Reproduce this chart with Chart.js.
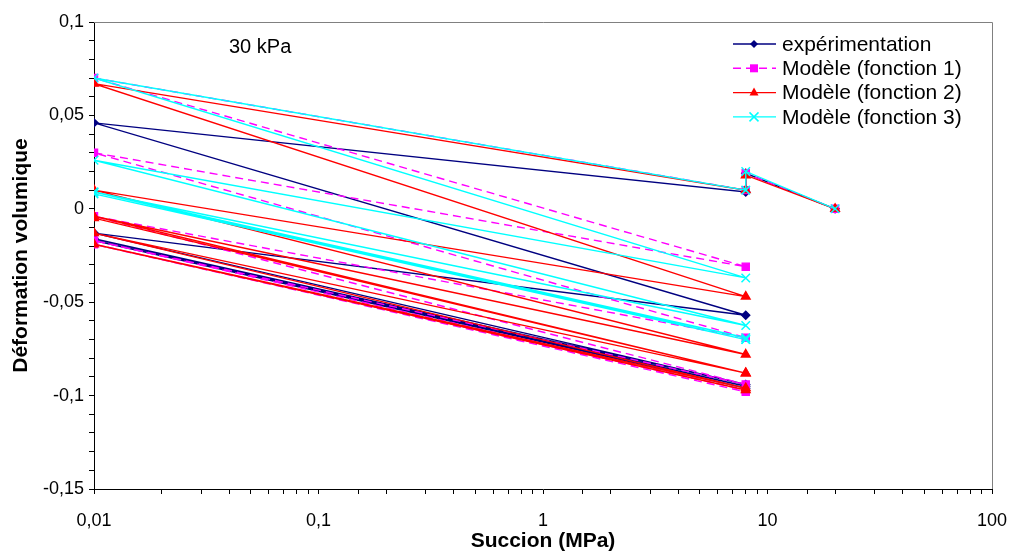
<!DOCTYPE html>
<html>
<head>
<meta charset="utf-8">
<script src="https://cdn.jsdelivr.net/npm/chart.js"></script>
<style>
  body { margin: 0; background: #fff; }
  #wrap { width: 1009px; height: 552px; }
</style>
</head>
<body>
<div id="wrap"><canvas id="chart" width="1009" height="552"></canvas></div>
<script>
// suction (MPa) and volumetric strain
const sucExp = [20, 8, 8, 0.01, 8, 0.01, 8, 0.01, 8, 0.01, 8];
const defExp = [0, 0.019, 0.009, 0.046, -0.057, -0.013, -0.094, -0.016, -0.095, -0.017, -0.096];

const sucF1 = [20, 8, 8, 0.01, 8, 0.01, 8, 0.01, 8, 0.01, 8, 0.01, 8];
const defF1 = [0, 0.019, 0.010, 0.070, -0.031, 0.030, -0.069, -0.004, -0.094, -0.017, -0.097, -0.019, -0.098];

const sucF2 = [20, 8, 8, 0.01, 8, 0.01, 8, 0.01, 8, 0.01, 8, 0.01, 8, 0.01, 8];
const defF2 = [0, 0.018, 0.010, 0.067, -0.047, 0.010, -0.078, -0.004, -0.088, -0.005, -0.088, -0.013, -0.096, -0.019, -0.097];

const sucF3 = [20, 8, 8, 0.01, 8, 0.01, 8, 0.01, 8, 0.01, 8, 0.01, 8];
const defF3 = [0, 0.020, 0.010, 0.070, -0.037, 0.026, -0.0625, 0.009, -0.069, 0.008, -0.070, 0.009, -0.070];

const seriesNames = ["expérimentation", "Modèle (fonction 1)", "Modèle (fonction 2)", "Modèle (fonction 3)"];
const xTitle = "Succion (MPa)";
const yTitle = "Déformation volumique";
const note = "30 kPa";

function pts(xs, ys) {
    let out = [];
    for (let i = 0; i < xs.length; i++) out.push({x: xs[i], y: ys[i]});
    return out;
}

function fmt(v) {
    let r = Math.round(v * 1000) / 1000;
    if (r === 0) return "0";
    return String(r).replace(".", ",");
}

function drawMarker(ctx, style, x, y, r, color) {
    ctx.save();
    ctx.fillStyle = color;
    ctx.strokeStyle = color;
    ctx.setLineDash([]);
    ctx.lineWidth = 1.5;
    ctx.beginPath();
    if (style == "rectRot") {
        ctx.moveTo(x, y - r); ctx.lineTo(x + r, y); ctx.lineTo(x, y + r); ctx.lineTo(x - r, y);
        ctx.closePath(); ctx.fill();
    } else if (style == "rect") {
        ctx.rect(x - r * 0.8, y - r * 0.8, r * 1.6, r * 1.6); ctx.fill();
    } else if (style == "triangle") {
        ctx.moveTo(x, y - r); ctx.lineTo(x + r * 0.9, y + r * 0.6); ctx.lineTo(x - r * 0.9, y + r * 0.6);
        ctx.closePath(); ctx.fill();
    } else {
        let d = r * 0.75;
        ctx.moveTo(x - d, y - d); ctx.lineTo(x + d, y + d);
        ctx.moveTo(x + d, y - d); ctx.lineTo(x - d, y + d);
        ctx.stroke();
    }
    ctx.restore();
}

const extras = {
    id: "extras",
    beforeDraw(chart) {
        const ctx = chart.ctx;
        ctx.save();
        ctx.fillStyle = "#fff";
        ctx.fillRect(0, 0, chart.width, chart.height);
        ctx.restore();
    },
    beforeDatasetsDraw(chart) {
        const ctx = chart.ctx, a = chart.chartArea;
        ctx.save();
        ctx.strokeStyle = "#808080";
        ctx.lineWidth = 1;
        ctx.beginPath();
        ctx.moveTo(a.left, a.top + 0.5); ctx.lineTo(a.right + 0.5, a.top + 0.5); ctx.lineTo(a.right + 0.5, a.bottom);
        ctx.stroke();
        ctx.restore();
    },
    afterDraw(chart) {
        const ctx = chart.ctx;
        ctx.save();
        ctx.fillStyle = "#000";
        ctx.font = "20px 'Liberation Sans', Arial, sans-serif";
        ctx.textBaseline = "middle";
        ctx.fillText(note, 229, 47);
        // legend
        ctx.font = "21px 'Liberation Sans', Arial, sans-serif";
        chart.data.datasets.forEach(function(ds, i) {
            let y = 44 + i * 24.3;
            ctx.save();
            ctx.strokeStyle = ds.borderColor;
            ctx.lineWidth = ds.borderWidth;
            ctx.setLineDash(ds.borderDash || []);
            ctx.beginPath();
            ctx.moveTo(733, y); ctx.lineTo(776, y);
            ctx.stroke();
            ctx.restore();
            drawMarker(ctx, ds.pointStyle, 754, y, ds.pointRadius, ds.borderColor);
            ctx.fillStyle = "#000";
            ctx.fillText(ds.label, 782, y + 1);
        });
        ctx.restore();
    }
};

new Chart("chart", {
    type: "line",
    data: {
        datasets: [
            {label: seriesNames[0], data: pts(sucExp, defExp), borderColor: "#000080", backgroundColor: "#000080",
             borderWidth: 1.4, pointStyle: "rectRot", pointRadius: 4, order: 4},
            {label: seriesNames[1], data: pts(sucF1, defF1), borderColor: "#FF00FF", backgroundColor: "#FF00FF",
             borderWidth: 1.4, borderDash: [8, 5], pointStyle: "rect", pointRadius: 5, order: 3},
            {label: seriesNames[2], data: pts(sucF2, defF2), borderColor: "#FF0000", backgroundColor: "#FF0000",
             borderWidth: 1.4, pointStyle: "triangle", pointRadius: 5, order: 2},
            {label: seriesNames[3], data: pts(sucF3, defF3), borderColor: "#00FFFF", backgroundColor: "#00FFFF",
             borderWidth: 1.4, pointStyle: "crossRot", pointRadius: 6, pointBorderWidth: 1.5, order: 1}
        ]
    },
    options: {
        responsive: false,
        animation: false,
        devicePixelRatio: 1,
        layout: {padding: {top: 22, right: 17, left: 0, bottom: 0}},
        plugins: {legend: {display: false}, tooltip: {enabled: false}},
        elements: {line: {tension: 0}},
        scales: {
            x: {
                type: "logarithmic",
                min: 0.01,
                max: 100,
                afterFit: function(s) { s.height = 63; s.paddingLeft = 0; s.paddingRight = 0; },
                grid: {drawOnChartArea: false, drawTicks: true, tickLength: 5, color: "#000"},
                border: {display: true, color: "#000", width: 1},
                ticks: {
                    autoSkip: false, maxRotation: 0, padding: 16, color: "#000",
                    font: {family: "'Liberation Sans', Arial, sans-serif", size: 18},
                    callback: function(v) {
                        let l = Math.log10(v);
                        if (Math.abs(l - Math.round(l)) > 1e-6) return "";
                        return fmt(v);
                    }
                },
                title: {display: true, text: xTitle, color: "#000", padding: {top: 0, bottom: 0},
                        font: {family: "'Liberation Sans', Arial, sans-serif", size: 21, weight: "bold", lineHeight: 1.0}}
            },
            y: {
                min: -0.15,
                max: 0.1,
                afterFit: function(s) { s.width = 94; },
                grid: {drawOnChartArea: false, drawTicks: true, tickLength: 5, color: "#000"},
                border: {display: true, color: "#000", width: 1},
                ticks: {
                    stepSize: 0.01, autoSkip: false, padding: 5, color: "#000",
                    font: {family: "'Liberation Sans', Arial, sans-serif", size: 18},
                    callback: function(v) {
                        let k = Math.round(v * 100);
                        if (k % 5 !== 0) return "";
                        return fmt(v);
                    }
                },
                title: {display: true, text: yTitle, color: "#000", padding: {top: 9, bottom: 0},
                        font: {family: "'Liberation Sans', Arial, sans-serif", size: 21, weight: "bold"}}
            }
        }
    },
    plugins: [extras]
});
</script>
</body>
</html>
